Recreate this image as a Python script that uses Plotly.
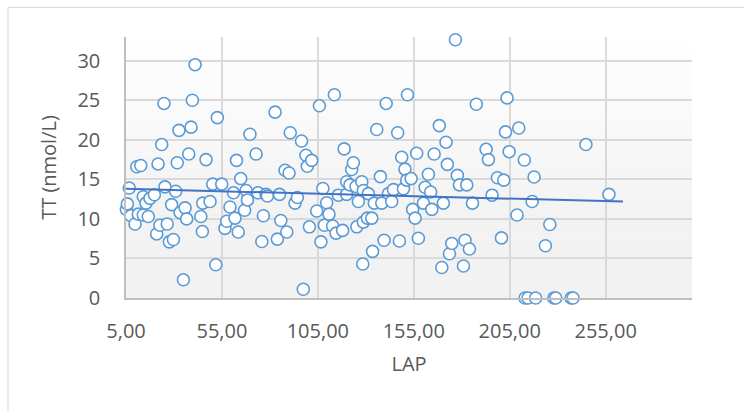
import plotly.graph_objects as go

# ---- data ----
lap = [5.2, 5.7, 6.7, 7.6, 9.7, 10.6, 12.7, 11.4, 14.0, 16.6, 14.0, 15.4, 17.5, 19.8, 21.7, 23.6, 24.8, 25.3,
       21.0, 22.7, 26.5, 27.6, 29.7, 28.8, 30.9, 31.7, 32.6, 33.2, 34.9, 35.8, 36.6, 37.7, 38.9, 39.6, 41.0,
       44.0, 44.8, 45.0, 46.7, 48.8, 50.2, 51.8, 52.6, 54.9, 56.6, 57.5, 59.2, 61.0, 61.8, 62.6, 63.5, 64.8,
       66.8, 67.6, 68.3,
       69.6, 72.8, 73.8, 75.8, 76.6, 78.0, 78.7, 82.7, 83.9, 85.0, 85.7, 87.9, 88.8, 90.0, 90.6, 93.1, 94.3,
       96.5, 97.4, 98.8, 99.5, 100.6, 101.8, 104.4, 105.8, 106.6, 107.6, 108.4, 109.6, 110.8, 112.7, 113.6,
       114.5, 115.7, 117.9, 118.7, 120.0, 120.0, 121.7, 122.6, 123.5, 124.9, 125.3, 126.1, 127.9, 128.4,
       128.7, 128.7, 130.8, 133.5, 131.3, 133.1, 134.4, 135.7, 137.6, 138.3, 139.5, 140.6, 141.8, 143.5,
       144.4, 146.6, 147.5, 148.7, 149.6, 150.4, 151.3, 151.7, 153.6, 154.4, 155.7, 156.5, 157.4, 160.0,
       160.9, 162.6, 163.8, 164.4, 165.6, 168.3, 169.6, 170.4, 171.8, 172.5, 173.6, 174.8, 176.7, 177.7,
       178.8, 180.9, 181.7, 182.6, 184.0, 185.6, 187.6, 192.7, 193.9, 195.8, 198.6, 200.7, 201.9, 202.8,
       203.6, 204.7, 208.8, 209.7, 212.6, 216.7, 217.7, 223.6, 225.9, 244.7, 256.7,
       213.0, 214.5, 218.5, 228.0, 229.0, 237.0, 238.0]
tt = [11.2, 11.9, 13.9, 10.4, 9.35, 16.6, 16.75, 10.6, 10.5, 10.3, 12.8, 12.0, 12.6, 13.05, 16.95, 19.4, 24.6, 14.05,
      8.1, 9.2, 9.35, 7.1, 7.4, 11.8, 13.5, 17.1, 21.2, 10.8, 2.3, 11.4, 10.0, 18.2, 21.6, 25.0, 29.5,
      10.3, 8.4, 12.0, 17.5, 12.2, 14.4, 4.2, 22.8, 14.4, 8.8, 9.7, 11.5, 13.3, 10.1, 17.4, 8.35, 15.1,
      11.1, 13.6, 12.4,
      20.7, 18.2, 13.3, 7.15, 10.4, 13.1, 12.9, 23.5, 7.45, 13.1, 9.8, 16.15, 8.35, 15.8, 20.9, 12.0, 12.7,
      19.85, 1.1, 18.05, 16.65, 9.0, 17.4, 11.0, 24.3, 7.1, 13.85, 9.2, 12.05, 10.6, 9.1, 25.7,
      8.2, 13.0, 8.55, 18.85, 14.7, 13.1, 14.3, 16.25, 17.1, 14.1, 9.0, 12.2, 14.7, 4.3,
      9.6, 13.6, 10.1, 5.9, 13.2, 10.1, 12.0, 21.3, 15.35, 12.0, 7.3, 24.6, 13.2, 12.2,
      13.7, 20.9, 7.2, 17.8, 13.8, 16.3, 14.9, 25.7, 15.1, 11.2, 10.1, 18.3, 7.55, 12.0,
      14.0, 15.65, 13.4, 11.2, 18.2, 21.8, 3.85, 12.0, 19.7, 16.9, 5.6, 6.9, 32.65, 15.5,
      14.3, 4.05, 7.3, 14.3, 6.2, 12.0, 24.5, 18.8, 17.5, 13.0, 15.2, 7.6, 14.9, 21.0,
      25.3, 18.5, 10.5, 21.5, 17.45, 12.2, 15.3, 6.6, 9.3, 19.4, 13.1,
      0.0, 0.0, 0.0, 0.0, 0.0, 0.0, 0.0]

trend_x = [5.0, 264.0]
trend_y = [13.8, 12.2]

x_ticks = [5, 55, 105, 155, 205, 255]
x_tick_text = ["5,00", "55,00", "105,00", "155,00", "205,00", "255,00"]
y_ticks = [0, 5, 10, 15, 20, 25, 30]

FONT = "Open Sans"
TXT = "#595959"

fig = go.Figure()
fig.add_trace(go.Scatter(
    x=lap, y=tt, mode="markers", cliponaxis=False, showlegend=False,
    marker=dict(symbol="circle", size=12, color="white",
                line=dict(color="#5b9bd5", width=1.6)),
))
fig.add_trace(go.Scatter(
    x=trend_x, y=trend_y, mode="lines", showlegend=False,
    line=dict(color="#4472c4", width=2),
))

# vertical gradient background of the plot area (white at top -> light grey lower)
shapes = []
n = 40
for i in range(n):
    f = (i + 0.5) / n  # 0 bottom, 1 top
    t = max(0.0, (f - 0.3) / 0.7)
    g = round(242 + (255 - 242) * t)
    col = f"rgb({g},{g},{g})"
    shapes.append(dict(type="rect", xref="paper", yref="paper",
                       x0=0, x1=1, y0=i / n, y1=(i + 1) / n,
                       fillcolor=col, line=dict(width=0), layer="below"))
# outer chart frame (extends past the right and bottom edges)
shapes.append(dict(type="rect", xref="paper", yref="paper",
                   x0=(8 - 126) / 566, x1=(760 - 126) / 566,
                   y0=(298 - 430) / 261, y1=(298 - 7.5) / 261,
                   line=dict(color="#d9d9d9", width=1), fillcolor="rgba(0,0,0,0)",
                   layer="below"))

fig.update_layout(
    width=744, height=412,
    margin=dict(l=126, r=52, t=37, b=114),
    paper_bgcolor="white", plot_bgcolor="white",
    font=dict(family=FONT, size=20, color=TXT),
    shapes=shapes,
)
fig.update_xaxes(
    range=[5, 300], tickvals=x_ticks, ticktext=x_tick_text,
    showgrid=True, gridcolor="#d9d9d9", gridwidth=1.5,
    showline=True, linecolor="#bfbfbf", linewidth=1.5,
    zeroline=False, ticks="", ticklabelstandoff=14,
    tickfont=dict(family=FONT, size=20, color=TXT),
    title=dict(text="LAP", font=dict(family=FONT, size=20, color=TXT), standoff=14),
)
fig.update_yaxes(
    range=[0, 33], tickvals=y_ticks,
    showgrid=True, gridcolor="#d9d9d9", gridwidth=1.5,
    showline=True, linecolor="#bfbfbf", linewidth=1.5,
    zeroline=False, ticks="", ticklabelstandoff=20,
    tickfont=dict(family=FONT, size=20, color=TXT),
    title=dict(text="TT (nmol/L)", font=dict(family=FONT, size=20, color=TXT), standoff=15),
)

fig.write_html("out.html")
